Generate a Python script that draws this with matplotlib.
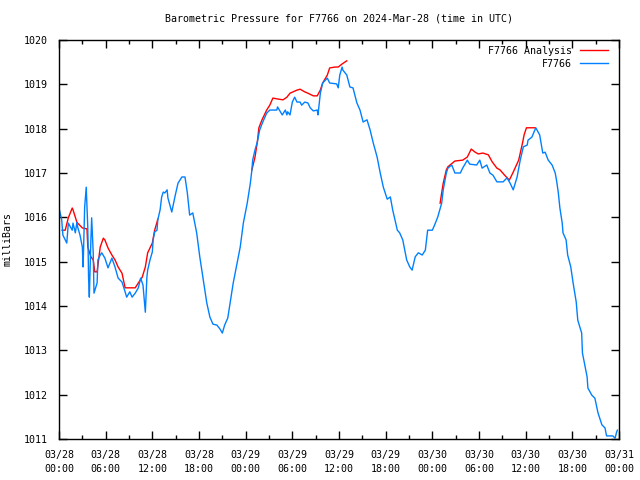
import numpy as np
import matplotlib.pyplot as plt

# station series (hours since 03/28 00:00 UTC, milliBars)
obs_hours = [0.0, 0.35, 0.5, 1.0, 1.2, 1.7, 1.8, 2.1, 2.3, 2.4, 2.7, 3.0, 3.1, 3.3, 3.5, 3.6, 3.7, 3.8, 3.9,
             4.1, 4.2, 4.4, 4.5, 4.9, 5.0, 5.3, 5.5, 5.9, 6.3, 6.8, 7.2, 7.6, 8.1, 8.5, 8.7, 9.1, 9.4, 9.8,
             10.2, 10.5, 10.8, 11.1, 11.3, 11.4, 11.7, 12.0, 12.1, 12.3, 12.6, 12.7, 13.0, 13.2, 13.4, 13.6,
             13.9, 14.0, 14.5, 14.9, 15.3, 15.8, 16.2, 16.5, 16.8, 17.2, 17.7, 18.1, 18.5, 19.0, 19.4, 19.8,
             20.3, 20.7, 21.0, 21.3, 21.7, 22.0, 22.4, 22.9, 23.3, 23.7, 24.2, 24.6, 24.8, 24.9, 25.2, 25.5,
             25.8, 26.2, 26.7, 27.1, 28.0, 28.1, 28.7, 29.1, 29.3, 29.4, 29.7, 30.0, 30.3, 30.6, 31.0, 31.2,
             31.6, 32.0, 32.3, 32.7, 33.2, 33.3, 33.6, 33.9, 34.5, 34.8, 35.7, 35.9, 36.1, 36.4, 36.5, 37.0,
             37.4, 37.8, 38.3, 38.7, 39.1, 39.6, 40.0, 40.4, 40.9, 41.3, 41.7, 42.2, 42.6, 42.9, 43.5, 43.8,
             44.2, 44.7, 45.1, 45.4, 45.8, 46.2, 46.7, 47.1, 47.4, 48.0, 48.3, 48.7, 49.2, 49.4, 49.8, 50.0,
             50.5, 50.9, 51.6, 51.9, 52.5, 52.8, 53.7, 54.1, 54.4, 55.0, 55.4, 55.8, 56.3, 57.1, 57.6, 58.0,
             58.4, 58.9, 59.3, 59.7, 60.2, 60.3, 60.8, 61.3, 61.8, 62.2, 62.5, 62.9, 63.4, 63.8, 64.0, 64.2,
             64.4, 64.7, 64.8, 65.2, 65.4, 65.8, 66.1, 66.5, 66.7, 67.2, 67.3, 67.9, 68.0, 68.5, 68.9, 69.3,
             69.8, 70.2, 70.4, 71.2, 71.5, 71.7, 71.8]
obs_press = [1016.21, 1015.94, 1015.60, 1015.42, 1015.87, 1015.71, 1015.87, 1015.65, 1015.89, 1015.78, 1015.60,
             1015.33, 1014.88, 1016.23, 1016.68, 1016.23, 1015.78, 1014.65, 1014.20, 1015.49, 1015.99, 1015.20,
             1014.29, 1014.52, 1015.04, 1015.15, 1015.20, 1015.08, 1014.86, 1015.08, 1014.88, 1014.63, 1014.54,
             1014.32, 1014.20, 1014.32, 1014.20, 1014.29, 1014.41, 1014.63, 1014.47, 1013.86, 1014.65, 1014.81,
             1015.04, 1015.22, 1015.49, 1015.67, 1015.71, 1015.94, 1016.17, 1016.46, 1016.57, 1016.55, 1016.62,
             1016.44, 1016.12, 1016.46, 1016.77, 1016.91, 1016.91, 1016.55, 1016.05, 1016.10, 1015.65, 1015.11,
             1014.65, 1014.07, 1013.75, 1013.59, 1013.57, 1013.48, 1013.39, 1013.57, 1013.73, 1014.07, 1014.52,
             1014.97, 1015.33, 1015.87, 1016.32, 1016.77, 1017.07, 1017.29, 1017.52, 1017.70, 1017.97, 1018.15,
             1018.35, 1018.42, 1018.42, 1018.49, 1018.31, 1018.42, 1018.31, 1018.38, 1018.31, 1018.60, 1018.71,
             1018.60, 1018.60, 1018.53, 1018.60, 1018.58, 1018.47, 1018.40, 1018.42, 1018.31, 1018.80, 1019.03,
             1019.14, 1019.03, 1019.01, 1018.92, 1019.21, 1019.39, 1019.32, 1019.21, 1018.94, 1018.92, 1018.58,
             1018.42, 1018.15, 1018.20, 1017.97, 1017.68, 1017.36, 1017.00, 1016.68, 1016.41, 1016.46, 1016.17,
             1015.71, 1015.65, 1015.49, 1015.04, 1014.88, 1014.81, 1015.11, 1015.20, 1015.15, 1015.26, 1015.71,
             1015.71, 1015.83, 1016.01, 1016.32, 1016.62, 1017.00, 1017.11, 1017.18, 1017.00, 1017.00, 1017.11,
             1017.29, 1017.20, 1017.18, 1017.29, 1017.11, 1017.18, 1017.00, 1016.95, 1016.80, 1016.80, 1016.89,
             1016.77, 1016.62, 1016.91, 1017.29, 1017.59, 1017.63, 1017.74, 1017.81, 1018.02, 1017.86, 1017.45,
             1017.47, 1017.29, 1017.18, 1017.00, 1016.80, 1016.55, 1016.21, 1015.87, 1015.65, 1015.49, 1015.15,
             1014.88, 1014.52, 1014.09, 1013.68, 1013.39, 1012.94, 1012.40, 1012.15, 1011.99, 1011.92, 1011.59,
             1011.32, 1011.25, 1011.07, 1011.07, 1011.02, 1011.16, 1011.20]

# analysis series, three separate pieces
ana1_hours = [0.4, 0.8, 1.2, 1.7, 1.8, 2.3, 2.4, 3.0, 3.6, 3.7, 4.1, 4.4, 4.6, 4.9, 5.3, 5.7, 5.9, 6.3,
              6.8, 7.2, 7.6, 8.1, 8.5, 9.8, 10.2, 10.7, 11.1, 11.4, 12.0, 12.3, 12.6, 12.7]
ana1_press = [1015.71, 1015.71, 1015.99, 1016.21, 1016.17, 1015.89, 1015.87, 1015.76, 1015.74, 1015.33,
              1015.11, 1015.04, 1014.77, 1014.77, 1015.33, 1015.53, 1015.49, 1015.31, 1015.15, 1015.04,
              1014.88, 1014.74, 1014.41, 1014.41, 1014.52, 1014.65, 1014.88, 1015.20, 1015.42, 1015.71,
              1015.89, 1015.96]
ana2_hours = [24.8, 25.2, 25.5, 25.7, 26.1, 26.7, 27.1, 27.5, 28.1, 28.8, 29.3, 29.7, 30.6, 31.0, 31.6,
              32.0, 32.7, 33.2, 33.6, 33.9, 34.5, 34.8, 35.5, 35.9, 36.4, 37.0]
ana2_press = [1017.07, 1017.36, 1017.70, 1018.02, 1018.20, 1018.42, 1018.53, 1018.69, 1018.67, 1018.65,
              1018.71, 1018.80, 1018.87, 1018.89, 1018.83, 1018.80, 1018.74, 1018.74, 1018.87, 1019.03,
              1019.21, 1019.37, 1019.39, 1019.39, 1019.46, 1019.53]
ana3_hours = [49.0, 49.2, 49.4, 49.8, 50.0, 50.9, 51.9, 52.5, 53.0, 53.5, 53.9, 54.5, 55.2, 55.7, 56.3,
              56.7, 57.3, 57.9, 58.4, 59.1, 59.6, 59.8, 60.1, 61.2]
ana3_press = [1016.32, 1016.55, 1016.77, 1017.07, 1017.14, 1017.27, 1017.29, 1017.36, 1017.54, 1017.47,
              1017.43, 1017.45, 1017.41, 1017.25, 1017.11, 1017.07, 1016.95, 1016.84, 1017.02, 1017.29,
              1017.68, 1017.86, 1018.02, 1018.02]

tick_labels = ['03/28\n00:00', '03/28\n06:00', '03/28\n12:00', '03/28\n18:00',
               '03/29\n00:00', '03/29\n06:00', '03/29\n12:00', '03/29\n18:00',
               '03/30\n00:00', '03/30\n06:00', '03/30\n12:00', '03/30\n18:00', '03/31\n00:00']

plt.rcParams['font.family'] = 'DejaVu Sans Mono'
plt.rcParams['font.size'] = 7.2

fig = plt.figure(figsize=(6.4, 4.8), dpi=100)
ax = fig.add_axes([59 / 640, 1 - 439 / 480, 560 / 640, 399 / 480])

red = '#ff0000'
blue = '#0080ff'
ax.plot(ana1_hours, ana1_press, color=red, lw=1.0, label='F7766 Analysis')
ax.plot(ana2_hours, ana2_press, color=red, lw=1.0)
ax.plot(ana3_hours, ana3_press, color=red, lw=1.0)
ax.plot(obs_hours, obs_press, color=blue, lw=1.0, label='F7766')

ax.set_xlim(0, 72)
ax.set_ylim(1011, 1020)
ax.set_xticks(np.arange(0, 73, 6))
ax.set_xticklabels(tick_labels, linespacing=1.45)
ax.set_xticks(np.arange(3, 72, 6), minor=True)
ax.set_yticks(np.arange(1011, 1021, 1))
ax.tick_params(which='both', direction='in', top=True, right=True, width=1.0)
ax.tick_params(which='major', length=6)
ax.tick_params(axis='x', which='major', pad=8)
ax.tick_params(axis='y', which='major', pad=8)
ax.tick_params(which='minor', length=3)
for s in ax.spines.values():
    s.set_linewidth(1.0)

ax.set_ylabel('milliBars', labelpad=8)
ax.set_title('Barometric Pressure for F7766 on 2024-Mar-28 (time in UTC)', fontsize=7.2, pad=13)

ax.legend(loc='upper right', bbox_to_anchor=(1 - 5 / 560, 1), frameon=False, markerfirst=False,
          handlelength=2.8, handletextpad=0.8, labelspacing=0.3, borderaxespad=0.4, borderpad=0.2)

plt.savefig('out.png', dpi=100)
